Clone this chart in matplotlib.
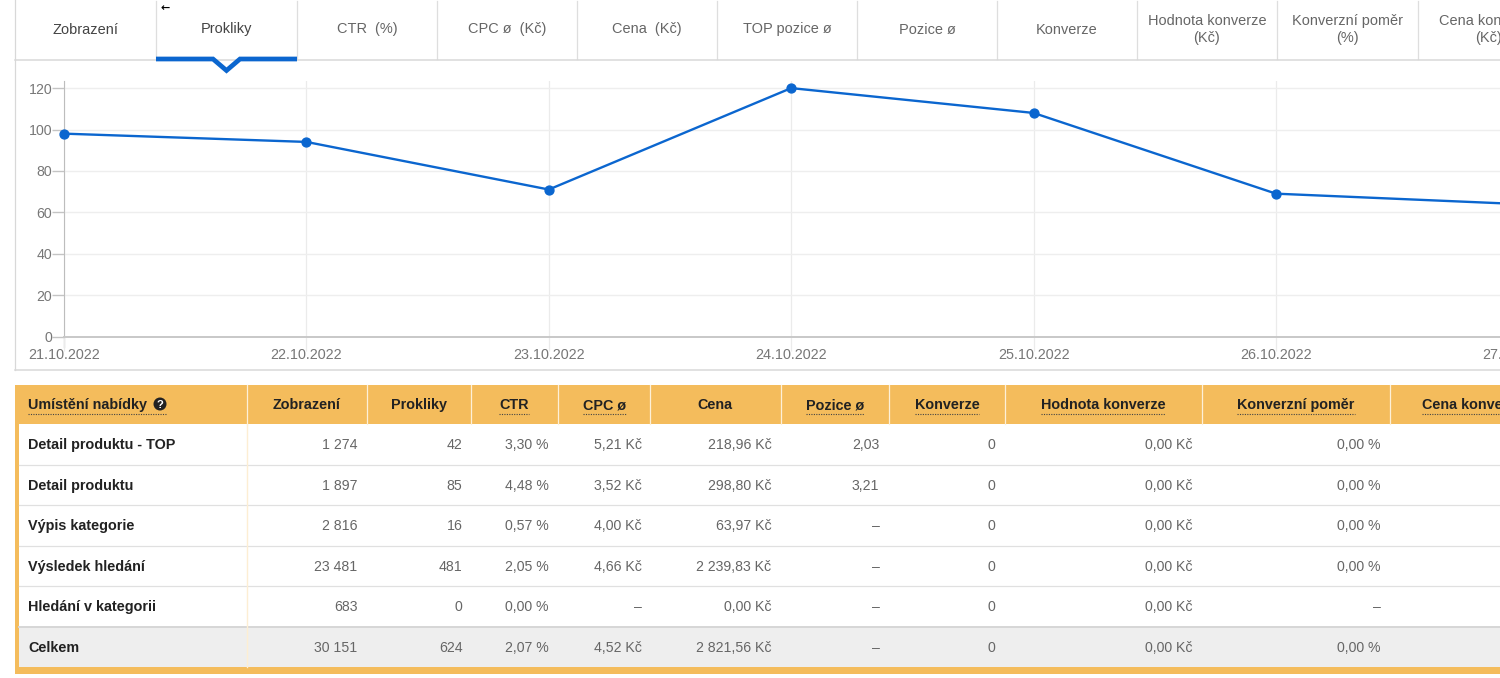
# -*- coding: utf-8 -*-
import matplotlib
matplotlib.use('Agg')
import matplotlib.pyplot as plt
from matplotlib.patches import Rectangle, Circle

W, H = 1500, 678

# Chart data
dates = ['21.10.2022', '22.10.2022', '23.10.2022', '24.10.2022',
         '25.10.2022', '26.10.2022', '27.10.2022']
clicks = [98, 94, 71, 120, 108, 69, 64]
y_ticks = [0, 20, 40, 60, 80, 100, 120]

# Tabs above the chart
tab_labels = ['Zobrazení', 'Prokliky', 'CTR  (%)', 'CPC ø  (Kč)', 'Cena  (Kč)',
              'TOP pozice ø', 'Pozice ø', 'Konverze', 'Hodnota konverze\n(Kč)',
              'Konverzní poměr\n(%)', 'Cena konverze\n(Kč)']

# Table
col_headers = ['Umístění nabídky', 'Zobrazení', 'Prokliky', 'CTR', 'CPC ø', 'Cena',
               'Pozice ø', 'Konverze', 'Hodnota konverze', 'Konverzní poměr',
               'Cena konverze']
row_names = ['Detail produktu - TOP', 'Detail produktu', 'Výpis kategorie',
             'Výsledek hledání', 'Hledání v kategorii', 'Celkem']
impressions = ['1 274', '1 897', '2 816', '23 481', '683', '30 151']
click_cells = ['42', '85', '16', '481', '0', '624']
ctr = ['3,30 %', '4,48 %', '0,57 %', '2,05 %', '0,00 %', '2,07 %']
cpc = ['5,21 Kč', '3,52 Kč', '4,00 Kč', '4,66 Kč', '–', '4,52 Kč']
price = ['218,96 Kč', '298,80 Kč', '63,97 Kč', '2 239,83 Kč', '0,00 Kč', '2 821,56 Kč']
position = ['2,03', '3,21', '–', '–', '–', '–']
conversions = ['0', '0', '0', '0', '0', '0']
conv_value = ['0,00 Kč', '0,00 Kč', '0,00 Kč', '0,00 Kč', '0,00 Kč', '0,00 Kč']
conv_ratio = ['0,00 %', '0,00 %', '0,00 %', '0,00 %', '–', '0,00 %']

BLUE = '#0b66cf'
ORANGE = '#f4bc5c'
FONT = 'Liberation Sans'

plt.rcParams['font.family'] = [FONT, 'DejaVu Sans']

fig = plt.figure(figsize=(W / 100, H / 100), dpi=100, facecolor='white')

# Pixel canvas for tabs and table
bg = fig.add_axes([0, 0, 1, 1])
bg.set_xlim(0, W)
bg.set_ylim(H, 0)
bg.axis('off')

# Tabs
tab_x = [15, 156, 297, 437, 577, 717, 857, 997, 1137, 1277, 1418, 1558]
for x in tab_x[1:-1]:
    bg.plot([x, x], [1, 59], color='#dedede', lw=.9)
bg.plot([15, 15], [0, 370], color='#d8d8d8', lw=.9)
bg.plot([15, W], [59.5, 59.5], color='#d8d8d8', lw=1.1)
bg.plot([15, W], [370, 370], color='#d8d8d8', lw=1.1)
for i, label in enumerate(tab_labels):
    cx = (tab_x[i] + tab_x[i + 1]) / 2
    cy = 28.5 if i == 1 else 29.5
    col = '#444444' if i < 2 else '#666666'
    bg.text(cx, cy, label, ha='center', va='center', fontsize=10.45, color=col,
            linespacing=1.2)

# Active tab marker
bg.plot([156, 213, 226.5, 240, 297], [59, 59, 70.5, 59, 59], color=BLUE, lw=3.4,
        solid_joinstyle='miter', solid_capstyle='butt')
bg.text(165.5, 8, '\u2190', ha='center', va='center', fontsize=8, fontweight='bold',
        color='black', family='DejaVu Sans')

# Chart, the axes runs past the right edge of the figure like the cut-off original
day_px = 242.4
ax_left, ax_top, ax_bottom = 64, 81, 336.5
val_top = (336.5 - 81) / 2.07
ax = fig.add_axes([ax_left / W, 1 - ax_bottom / H, 7 * day_px / W, (ax_bottom - ax_top) / H])
ax.patch.set_alpha(0)
x_pos = list(range(len(dates)))
ax.plot(x_pos, clicks, color=BLUE, lw=1.7, marker='o', ms=6.4, clip_on=False, zorder=5)
ax.set_xlim(0, 7)
ax.set_ylim(0, val_top)
ax.set_xticks(x_pos)
ax.set_xticklabels(dates)
ax.set_yticks(y_ticks)
ax.grid(axis='y', color='#eeeeee', lw=1)
ax.grid(axis='x', color='#ebebeb', lw=.9)
ax.set_axisbelow(True)
ax.tick_params(axis='x', length=10, width=.9, color='#ebebeb', labelsize=10.4,
               labelcolor='#777777', pad=-1.8)
ax.tick_params(axis='y', length=9, width=1, color='#c4c4c4', labelsize=10.2,
               labelcolor='#777777', pad=-0.5)
for side in ['top', 'right']:
    ax.spines[side].set_visible(False)
ax.spines['left'].set_color('#bdbdbd')
ax.spines['bottom'].set_color('#c8c8c8')
ax.spines['bottom'].set_linewidth(1.4)
bg.plot([64, 64], [337, 347], color='#bdbdbd', lw=.9)

# Table
col_x = [247, 367, 471, 558, 650, 781, 889, 1005, 1202, 1390]
header_cx = [None, 307, 419, 514, 605, 715, 835, 947, 1103, 1296]
dotted = [True, False, False, True, True, False, True, True, True, True, True]
right_x = [357.5, 462.5, 548.5, 641.5, 771.5, 879.5, 995.5, 1192.5, 1380.5]
columns = [impressions, click_cells, ctr, cpc, price, position, conversions,
           conv_value, conv_ratio]
row_lines = [424, 464.5, 505, 545.5, 586, 627, 667]

bg.add_patch(Rectangle((15, 385), W - 15, 39, color=ORANGE, lw=0))
bg.add_patch(Rectangle((15, 424), 4, 250, color=ORANGE, lw=0))
bg.add_patch(Rectangle((15, 667), W - 15, 7, color=ORANGE, lw=0))
bg.add_patch(Rectangle((19, 627), W - 19, 40, color='#eeeeee', lw=0))
for y in row_lines[1:5]:
    bg.plot([19, W], [y, y], color='#e0e0e0', lw=.9)
bg.plot([19, W], [627, 627], color='#d6d6d6', lw=1.4)
bg.plot([247, 247], [424, 667], color='#fdeed3', lw=1)
for x in col_x:
    bg.plot([x, x], [385, 424], color='#fdf0d8', lw=.9)


def header_text(x, label, ha, underline):
    t = bg.text(x, 409, label, ha=ha, va='baseline', fontsize=10.4, fontweight='bold',
                color='#222222')
    if underline:
        fig.canvas.draw()
        box = t.get_window_extent()
        bg.plot([box.x0, box.x1], [413.5, 413.5], color='#444444', lw=.8, ls=(0, (1, 1.2)))


header_text(28, col_headers[0], 'left', False)
bg.plot([28, 167], [413.5, 413.5], color='#444444', lw=.8, ls=(0, (1, 1.2)))
bg.add_patch(Circle((160, 404), 6.5, color='#222222', lw=0))
bg.text(160, 404.5, '?', ha='center', va='center', fontsize=8, fontweight='bold', color='white')
for i in range(1, 10):
    header_text(header_cx[i], col_headers[i], 'center', dotted[i])
header_text(1422, col_headers[10], 'left', True)

for r, name in enumerate(row_names):
    cy = (row_lines[r] + row_lines[r + 1]) / 2
    bg.text(28, cy + 4.8, name, ha='left', va='baseline', fontsize=10.4, fontweight='bold',
            color='#222222')
    for c, values in enumerate(columns):
        bg.text(right_x[c], cy + 4.8, values[r], ha='right', va='baseline', fontsize=10.2,
                color='#666666')

fig.savefig('out.png', dpi=100)
